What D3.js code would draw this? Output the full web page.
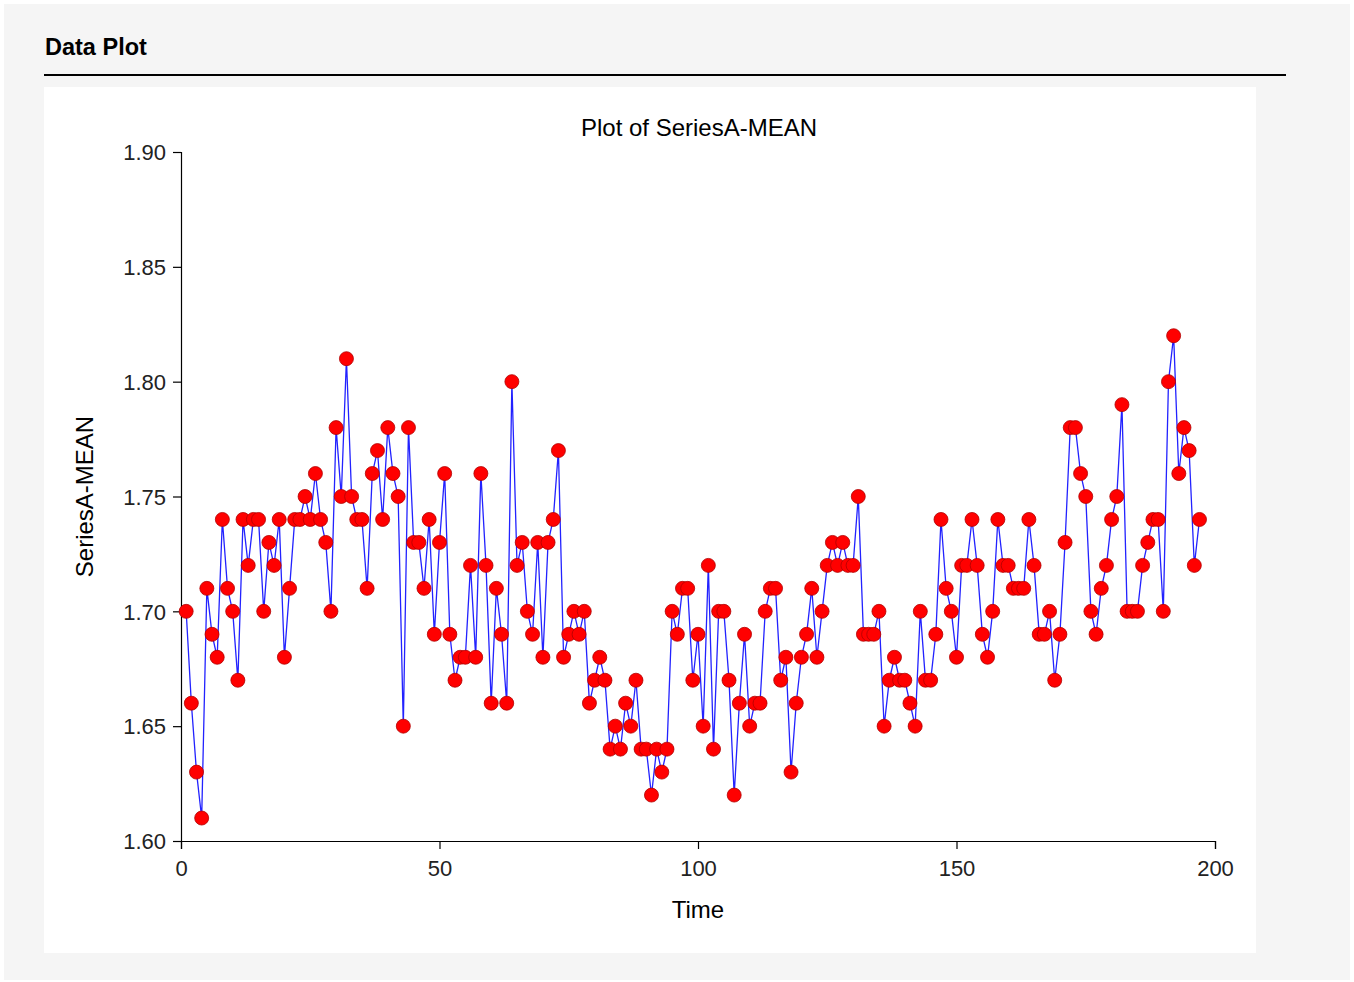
<!DOCTYPE html>
<html>
<head>
<meta charset="utf-8">
<script src="https://cdn.jsdelivr.net/npm/d3@7"></script>
<style>
  html, body { margin: 0; padding: 0; background: #ffffff; }
  svg { display: block; }
  text { font-family: "Liberation Sans", Arial, sans-serif; }
</style>
</head>
<body>
<svg id="chart" width="1354" height="982"></svg>
<script>
// ---- Data ----
const seriesValues = [
  1.70,1.66,1.63,1.61,1.71,1.69,1.68,1.74,1.71,1.70,
  1.67,1.74,1.72,1.74,1.74,1.70,1.73,1.72,1.74,1.68,
  1.71,1.74,1.74,1.75,1.74,1.76,1.74,1.73,1.70,1.78,
  1.75,1.81,1.75,1.74,1.74,1.71,1.76,1.77,1.74,1.78,
  1.76,1.75,1.65,1.78,1.73,1.73,1.71,1.74,1.69,1.73,
  1.76,1.69,1.67,1.68,1.68,1.72,1.68,1.76,1.72,1.66,
  1.71,1.69,1.66,1.80,1.72,1.73,1.70,1.69,1.73,1.68,
  1.73,1.74,1.77,1.68,1.69,1.70,1.69,1.70,1.66,1.67,
  1.68,1.67,1.64,1.65,1.64,1.66,1.65,1.67,1.64,1.64,
  1.62,1.64,1.63,1.64,1.70,1.69,1.71,1.71,1.67,1.69,
  1.65,1.72,1.64,1.70,1.70,1.67,1.62,1.66,1.69,1.65,
  1.66,1.66,1.70,1.71,1.71,1.67,1.68,1.63,1.66,1.68,
  1.69,1.71,1.68,1.70,1.72,1.73,1.72,1.73,1.72,1.72,
  1.75,1.69,1.69,1.69,1.70,1.65,1.67,1.68,1.67,1.67,
  1.66,1.65,1.70,1.67,1.67,1.69,1.74,1.71,1.70,1.68,
  1.72,1.72,1.74,1.72,1.69,1.68,1.70,1.74,1.72,1.72,
  1.71,1.71,1.71,1.74,1.72,1.69,1.69,1.70,1.67,1.69,
  1.73,1.78,1.78,1.76,1.75,1.70,1.69,1.71,1.72,1.74,
  1.75,1.79,1.70,1.70,1.70,1.72,1.73,1.74,1.74,1.70,
  1.80,1.82,1.76,1.78,1.77,1.72,1.74
];
const timeValues = seriesValues.map((_, i) => i + 1);
const xTicks = [0, 50, 100, 150, 200];
const yTicks = [1.60, 1.65, 1.70, 1.75, 1.80, 1.85, 1.90];
const pageTitle = "Data Plot";
const chartTitle = "Plot of SeriesA-MEAN";
const xLabel = "Time";
const yLabel = "SeriesA-MEAN";

const points = timeValues.map((t, i) => ({ t, v: seriesValues[i] }));

// ---- Layout ----
const svg = d3.select("#chart");

svg.append("rect").attr("x", 4).attr("y", 4).attr("width", 1346).attr("height", 976)
  .attr("fill", "#f5f5f5");

svg.append("text").attr("x", 45).attr("y", 55)
  .attr("font-size", 23.5).attr("font-weight", "bold").attr("fill", "#000")
  .text(pageTitle);

svg.append("line").attr("x1", 44).attr("x2", 1286).attr("y1", 75).attr("y2", 75)
  .attr("stroke", "#000").attr("stroke-width", 2);

svg.append("rect").attr("x", 44).attr("y", 87).attr("width", 1212).attr("height", 866)
  .attr("fill", "#ffffff");

const x = d3.scaleLinear().domain([0, 200]).range([181, 1215]);
const y = d3.scaleLinear().domain([1.60, 1.90]).range([841, 152]);

// Axes
const xAxis = d3.axisBottom(x).tickValues(xTicks).tickSize(8).tickPadding(0)
  .tickFormat(d3.format("d"));
const yAxis = d3.axisLeft(y).tickValues(yTicks).tickSize(8).tickPadding(7)
  .tickFormat(d3.format(".2f"));

const gx = svg.append("g").attr("transform", `translate(0,${y(1.60)})`).call(xAxis);
const gy = svg.append("g").attr("transform", `translate(${x(0)},0)`).call(yAxis);

[gx, gy].forEach(g => {
  g.select(".domain").attr("stroke", "#000").attr("stroke-width", 1.2);
  g.selectAll(".tick line").attr("stroke", "#000").attr("stroke-width", 1.2);
  g.selectAll(".tick text").attr("font-size", 22).attr("fill", "#222")
    .attr("font-family", "'Liberation Sans', Arial, sans-serif");
});
gy.selectAll(".tick text").attr("dy", "0.35em");
gx.selectAll(".tick text").attr("dy", null).attr("y", 35);

// Titles
svg.append("text").attr("x", 699).attr("y", 136).attr("text-anchor", "middle")
  .attr("font-size", 24).attr("fill", "#000").text(chartTitle);

svg.append("text").attr("x", 698).attr("y", 918).attr("text-anchor", "middle")
  .attr("font-size", 24).attr("fill", "#000").text(xLabel);

svg.append("text").attr("transform", `translate(93,${(y(1.60) + y(1.90)) / 2}) rotate(-90)`)
  .attr("text-anchor", "middle").attr("font-size", 24).attr("fill", "#000").text(yLabel);

// Line
const line = d3.line().x(d => x(d.t)).y(d => y(d.v));
svg.append("path").datum(points).attr("d", line)
  .attr("fill", "none").attr("stroke", "#2222ff").attr("stroke-width", 1.3);

// Markers
svg.append("g").selectAll("circle").data(points).join("circle")
  .attr("cx", d => x(d.t)).attr("cy", d => y(d.v)).attr("r", 7)
  .attr("fill", "#ff0000").attr("stroke", "#b00000").attr("stroke-width", 0.8);
</script>
</body>
</html>
